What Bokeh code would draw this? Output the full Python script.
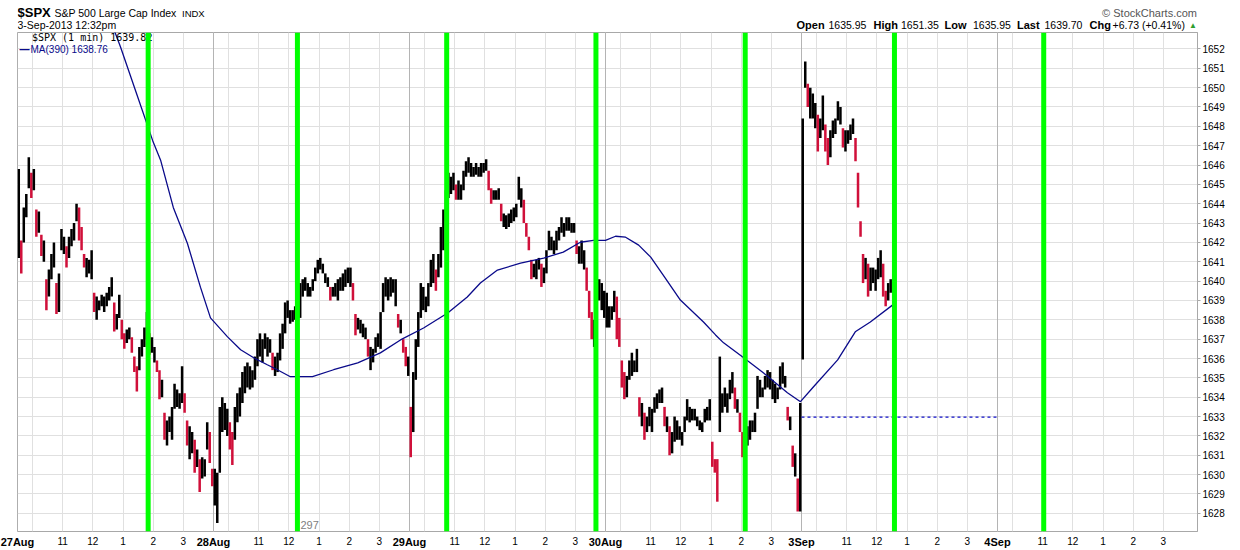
import numpy as np
from bokeh.plotting import figure
from bokeh.layouts import column
from bokeh.models import (Range1d, FixedTicker, Label, Span, ColumnDataSource, LinearAxis)
from bokeh.embed import file_html
from bokeh.resources import INLINE

# ---------------- data ----------------
day_labels = ["27Aug", "28Aug", "29Aug", "30Aug", "3Sep", "4Sep"]
session_len = 390          # trading minutes per day
bar_step = 5               # minutes per drawn bar
hour_offsets = [30, 90, 150, 210, 270, 330]
hour_labels = ["", "11", "12", "1", "2", "3"]

aug27_low = [1641.2, 1640.4, 1642.0, 1643.3, 1644.8, 1644.3, 1644.7, 1642.3, 1642.5, 1641.3,
             1641.0, 1638.5, 1639.2, 1640.1, 1640.7, 1638.3, 1638.4, 1641.6, 1641.4, 1640.7,
             1641.2, 1641.8, 1642.1, 1643.1, 1642.1, 1641.6, 1640.7, 1640.2, 1640.4, 1640.1,
             1638.4, 1638.0, 1638.5, 1638.7, 1638.4, 1638.7, 1639.0, 1639.2, 1637.4, 1637.5,
             1638.1, 1637.0, 1636.5, 1636.8, 1637.0, 1636.3, 1635.3, 1634.3, 1635.4, 1636.1,
             1636.6, 1637.0, 1636.2, 1636.3, 1635.8, 1635.3, 1633.9, 1634.0, 1631.8, 1631.5,
             1632.2, 1631.8, 1633.4, 1633.5, 1633.4, 1633.7, 1633.2, 1631.5, 1630.8, 1631.1,
             1630.1, 1630.4, 1629.1, 1629.8, 1629.9, 1631.3, 1630.6, 1629.4]
aug27_high = [1645.8, 1642.1, 1643.8, 1644.5, 1646.4, 1645.6, 1645.8, 1643.7, 1643.6, 1642.4,
              1642.1, 1640.1, 1640.6, 1641.4, 1642.0, 1639.9, 1640.4, 1642.7, 1642.3, 1641.8,
              1642.3, 1642.7, 1643.0, 1644.0, 1643.8, 1642.8, 1641.4, 1641.2, 1641.1, 1641.6,
              1639.4, 1639.2, 1639.0, 1639.3, 1639.2, 1639.4, 1639.7, 1640.2, 1638.9, 1638.3,
              1639.3, 1638.0, 1637.3, 1637.5, 1637.6, 1637.1, 1636.1, 1635.6, 1636.6, 1637.0,
              1637.6, 1638.4, 1637.3, 1637.1, 1636.6, 1635.9, 1635.4, 1634.9, 1633.2, 1632.8,
              1633.0, 1633.5, 1634.7, 1634.4, 1634.2, 1635.6, 1634.2, 1632.8, 1632.5, 1632.2,
              1631.8, 1631.3, 1630.8, 1630.9, 1630.8, 1632.7, 1632.2, 1630.3]

aug28_low = [1628.4, 1627.5, 1630.1, 1632.2, 1632.3, 1632.0, 1631.3, 1630.5, 1631.8, 1632.7,
             1633.0, 1633.7, 1634.2, 1634.5, 1634.4, 1634.5, 1634.9, 1635.6, 1636.1, 1635.8,
             1636.5, 1636.1, 1636.3, 1635.4, 1635.1, 1635.3, 1635.9, 1636.5, 1637.3, 1638.1,
             1637.8, 1637.9, 1638.0, 1638.4, 1638.1, 1639.2, 1639.5, 1639.2, 1639.2, 1639.5,
             1640.0, 1640.4, 1640.6, 1640.4, 1639.9, 1639.7, 1639.0, 1639.2, 1639.2, 1639.0,
             1639.5, 1639.5, 1639.7, 1639.9, 1639.7, 1639.0, 1637.2, 1637.5, 1637.3, 1637.1,
             1637.0, 1636.1, 1635.4, 1635.8, 1636.3, 1636.6, 1636.5, 1638.4, 1639.2, 1639.0,
             1639.2, 1639.4, 1638.7, 1637.6, 1637.3, 1636.3, 1635.6, 1635.1]
aug28_high = [1630.3, 1630.1, 1633.5, 1634.0, 1633.7, 1633.4, 1632.7, 1632.2, 1633.5, 1634.2,
              1634.5, 1635.3, 1635.6, 1635.8, 1635.6, 1635.4, 1636.1, 1637.0, 1637.3, 1637.0,
              1637.3, 1637.1, 1637.0, 1636.3, 1636.1, 1636.3, 1637.3, 1637.8, 1638.9, 1639.0,
              1638.5, 1638.5, 1638.7, 1640.1, 1639.9, 1640.1, 1640.2, 1639.9, 1639.7, 1640.1,
              1640.7, 1641.1, 1641.2, 1640.9, 1640.4, 1640.2, 1639.7, 1639.7, 1639.9, 1640.1,
              1640.2, 1640.4, 1640.6, 1640.7, 1640.7, 1639.9, 1638.3, 1638.1, 1638.0, 1637.8,
              1637.6, 1637.0, 1636.6, 1636.5, 1637.1, 1637.3, 1638.4, 1639.9, 1640.2, 1640.1,
              1640.2, 1640.1, 1640.1, 1638.3, 1638.0, 1637.0, 1636.6, 1636.1]

aug29_low = [1630.9, 1632.2, 1634.9, 1636.6, 1638.1, 1638.5, 1638.4, 1638.7, 1639.7, 1639.9,
             1639.5, 1640.2, 1640.7, 1641.6, 1643.1, 1644.3, 1644.5, 1644.7, 1644.2, 1644.2,
             1644.2, 1644.7, 1645.4, 1645.6, 1645.4, 1645.4, 1645.5, 1645.4, 1645.4, 1645.6,
             1645.7, 1644.7, 1644.0, 1644.2, 1644.2, 1644.2, 1643.1, 1642.8, 1642.7, 1642.8,
             1643.0, 1643.1, 1643.3, 1644.2, 1643.8, 1643.0, 1642.3, 1641.6, 1640.1, 1640.2,
             1640.1, 1640.6, 1639.7, 1639.9, 1640.4, 1641.6, 1641.6, 1641.4, 1641.6, 1642.1,
             1642.5, 1642.3, 1642.6, 1642.6, 1642.5, 1642.5, 1641.4, 1640.9, 1640.9, 1640.6,
             1639.5, 1638.1, 1637.0, 1636.6, 1637.0, 1639.0, 1638.5, 1638.1]
aug29_high = [1633.5, 1635.3, 1637.0, 1638.4, 1639.9, 1639.7, 1639.2, 1639.9, 1641.1, 1641.4,
              1640.6, 1641.4, 1642.8, 1643.7, 1644.7, 1645.6, 1645.4, 1645.6, 1645.0, 1645.2,
              1645.0, 1645.7, 1646.2, 1646.4, 1646.1, 1645.9, 1646.1, 1645.9, 1646.1, 1646.1,
              1646.3, 1645.7, 1644.8, 1644.7, 1644.7, 1644.8, 1644.0, 1643.5, 1643.4, 1643.5,
              1643.7, 1643.8, 1644.0, 1645.4, 1644.8, 1644.2, 1643.0, 1642.3, 1641.1, 1640.9,
              1641.1, 1641.2, 1640.9, 1640.7, 1641.6, 1642.6, 1642.3, 1642.1, 1642.6, 1642.8,
              1643.3, 1643.0, 1643.3, 1643.3, 1643.0, 1643.0, 1642.1, 1641.8, 1642.1, 1641.6,
              1640.7, 1639.5, 1638.4, 1638.0, 1638.5, 1640.1, 1639.9, 1639.5]

aug30_low = [1637.6, 1637.6, 1638.0, 1638.4, 1637.0, 1636.6, 1634.5, 1633.9, 1634.0, 1634.9,
             1635.1, 1635.3, 1635.3, 1633.0, 1632.5, 1631.8, 1632.2, 1632.5, 1632.2, 1633.2,
             1633.4, 1633.7, 1633.7, 1632.5, 1632.2, 1631.0, 1631.1, 1631.7, 1631.8, 1631.8,
             1631.5, 1632.2, 1632.8, 1632.7, 1632.8, 1632.8, 1632.5, 1632.3, 1632.2, 1632.7,
             1632.8, 1632.8, 1630.4, 1630.1, 1628.6, 1632.2, 1633.2, 1633.5, 1633.2, 1633.9,
             1634.2, 1633.4, 1633.2, 1632.2, 1630.9, 1631.3, 1631.5, 1631.8, 1632.2, 1632.2,
             1633.4, 1634.0, 1634.0, 1634.4, 1634.5, 1634.4, 1633.9, 1633.7, 1633.9, 1634.4,
             1634.7, 1634.5, 1632.8, 1632.3, 1630.4, 1629.9, 1628.1, 1628.1]
aug30_high = [1639.4, 1638.7, 1638.7, 1639.5, 1639.2, 1638.1, 1635.9, 1635.3, 1635.1, 1635.9,
              1636.3, 1635.9, 1636.5, 1634.0, 1633.7, 1633.2, 1633.0, 1633.5, 1633.4, 1634.0,
              1634.2, 1634.4, 1634.5, 1633.5, 1633.0, 1632.5, 1632.2, 1633.0, 1632.8, 1632.5,
              1632.2, 1633.0, 1633.9, 1633.5, 1633.4, 1633.4, 1633.0, 1632.8, 1632.7, 1633.4,
              1633.5, 1633.9, 1631.7, 1630.8, 1630.8, 1636.1, 1634.2, 1634.5, 1634.2, 1634.9,
              1635.3, 1634.5, 1633.9, 1633.2, 1632.2, 1632.5, 1632.5, 1632.8, 1632.8, 1633.2,
              1635.1, 1634.9, 1634.5, 1635.1, 1635.4, 1635.3, 1634.9, 1634.7, 1634.5, 1635.6,
              1635.8, 1635.1, 1633.5, 1633.0, 1631.5, 1631.1, 1629.8, 1633.7]

sep03_low = [1635.95, 1650.0, 1649.0, 1648.4, 1648.4, 1647.9, 1646.7, 1647.4, 1647.8, 1646.7,
             1646.0, 1646.4, 1647.4, 1647.6, 1648.3, 1648.1, 1646.9, 1646.7, 1647.1, 1647.3,
             1647.6, 1646.2, 1643.8, 1642.3, 1639.9, 1640.1, 1639.2, 1639.5, 1639.9, 1639.5,
             1640.1, 1640.2, 1639.2, 1638.7, 1639.0, 1639.4, 1639.5]
sep03_high = [1648.4, 1651.35, 1650.2, 1650.0, 1649.7, 1649.2, 1648.6, 1648.4, 1649.6, 1648.1,
              1647.4, 1647.8, 1648.3, 1648.4, 1649.3, 1649.0, 1647.9, 1647.8, 1647.8, 1648.1,
              1648.4, 1647.4, 1645.6, 1643.1, 1641.4, 1641.2, 1640.9, 1640.7, 1640.7, 1640.6,
              1641.2, 1641.6, 1640.9, 1639.5, 1639.9, 1640.1, 1640.1]

# 390-minute moving average (trading-minute index, value)
ma_minute = [193, 205, 237, 269, 285, 310, 338, 364, 384, 418, 444, 470, 497, 517, 543, 563,
             587, 629, 677, 722, 762, 808, 856, 895, 921, 955, 1001, 1047, 1086, 1120, 1146,
             1170, 1190, 1210, 1236, 1260, 1289, 1319, 1365, 1389, 1405, 1445, 1484, 1532,
             1558, 1584, 1632, 1667, 1697, 1741]
ma_value = [1652.93, 1652.10, 1649.68, 1647.26, 1646.23, 1643.81, 1641.96, 1639.69, 1638.10,
            1637.12, 1636.45, 1636.04, 1635.68, 1635.42, 1635.06, 1635.06, 1635.06, 1635.42,
            1635.78, 1636.29, 1636.96, 1637.58, 1638.35, 1639.18, 1639.90, 1640.57, 1640.93,
            1641.19, 1641.50, 1642.01, 1642.11, 1642.11, 1642.32, 1642.27, 1641.86, 1641.24,
            1640.16, 1639.02, 1637.89, 1637.22, 1636.81, 1636.04, 1635.26, 1634.23, 1633.77,
            1634.54, 1635.93, 1637.38, 1637.89, 1638.76]

cycle_lines = [260, 557, 854, 1151, 1448, 1745, 2042]
cycle_text = "297"
prev_close = 1632.97
y_ticks = list(range(1628, 1653))

quote_open, quote_high, quote_low, quote_last = 1635.95, 1651.35, 1635.95, 1639.70
quote_chg, quote_pct = 6.73, 0.41
legend_last = 1639.82

# ---------------- build bars ----------------
daily = [(aug27_low, aug27_high), (aug28_low, aug28_high), (aug29_low, aug29_high),
         (aug30_low, aug30_high), (sep03_low, sep03_high)]
bx, blo, bhi = [], [], []
for d, (lo, hi) in enumerate(daily):
    for i, (l, h) in enumerate(zip(lo, hi)):
        bx.append(d * session_len + i * bar_step + bar_step / 2)
        blo.append(l)
        bhi.append(h)
mid = (np.array(blo) + np.array(bhi)) / 2
bcol = ["#000000"] + ["#d0103a" if mid[k] < mid[k - 1] - 0.55 else "#000000"
                      for k in range(1, len(mid))]
bars = ColumnDataSource(dict(x=bx, low=blo, high=bhi, color=bcol))

n_days = len(day_labels)
day_starts = [d * session_len for d in range(n_days)]
x_ticks, overrides = [], {}
for ds in day_starts:
    x_ticks.append(ds)
    overrides[ds] = ""
    for off, lab in zip(hour_offsets, hour_labels):
        x_ticks.append(ds + off)
        overrides[ds + off] = lab

FONT = "Liberation Sans"
W = 1240
HEAD_H = 32
FL, FR, FB = 17, 1197, 531   # chart frame left / right / bottom on the page

# ---------------- header strip (page coordinates) ----------------
h = figure(width=W, height=HEAD_H, x_range=Range1d(FL, FR), y_range=Range1d(HEAD_H, 0),
           title=None, output_backend="svg", toolbar_location=None,
           x_axis_type=None, y_axis_type=None,
           min_border_left=FL, min_border_right=W - FR, min_border_top=0, min_border_bottom=0,
           outline_line_color=None, background_fill_color="white", border_fill_color="white")
h.xgrid.visible = False
h.ygrid.visible = False

def hlab(x, y, t, size, bold=False, color="#000000", align="left"):
    h.add_layout(Label(x=x, y=y, text=t, text_font=FONT, text_font_size=size,
                       text_font_style="bold" if bold else "normal",
                       text_color=color, text_align=align, text_baseline="middle"))

hlab(17, 11.8, "$SPX", "13px", bold=True)
hlab(54, 12, "S&P 500 Large Cap Index", "10.5px")
hlab(181.5, 12.6, "INDX", "9.5px")
hlab(17, 24.4, "3-Sep-2013 12:32pm", "10.5px")
hlab(1196.5, 12, "\u00a9 StockCharts.com", "11px", color="#555555", align="right")
hlab(796, 24.5, "Open", "11px", bold=True)
hlab(828, 24.5, f"{quote_open:.2f}", "10.5px")
hlab(873, 24.5, "High", "11px", bold=True)
hlab(900.5, 24.5, f"{quote_high:.2f}", "10.5px")
hlab(944, 24.5, "Low", "11px", bold=True)
hlab(972.5, 24.5, f"{quote_low:.2f}", "10.5px")
hlab(1016.5, 24.5, "Last", "11px", bold=True)
hlab(1044, 24.5, f"{quote_last:.2f}", "10.5px")
hlab(1089, 24.5, "Chg", "11px", bold=True)
hlab(1112, 24.5, f"+{quote_chg:.2f} (+{quote_pct:.2f}%)", "10.5px")
hlab(1188.5, 24.5, "\u25b2", "8px", color="#2e9e2e")

# ---------------- main chart ----------------
def sx(xp):
    return xp - FL
def sy(yp):
    return FB - yp

p = figure(width=W, height=550 - HEAD_H, x_range=Range1d(0, 2348),
           y_range=Range1d(1627.06, 1652.85),
           output_backend="svg", toolbar_location=None, y_axis_location="right",
           min_border_left=FL, min_border_right=W - FR, min_border_top=0, min_border_bottom=19,
           background_fill_color="white", border_fill_color="white",
           outline_line_color="#a8a8a8")

p.xaxis.ticker = FixedTicker(ticks=x_ticks)
p.xaxis.major_label_overrides = overrides
p.xaxis.major_tick_line_color = None
p.xaxis.major_tick_out = 0
p.xaxis.major_tick_in = 0
p.xaxis.minor_tick_line_color = None
p.xaxis.axis_line_color = None
p.xaxis.major_label_standoff = 5
p.xaxis.major_label_text_font = FONT
p.xaxis.major_label_text_font_size = "10px"
p.xaxis.major_label_text_color = "#000000"

day_axis = LinearAxis(ticker=FixedTicker(ticks=day_starts),
                      major_label_overrides={ds: t for ds, t in zip(day_starts, day_labels)},
                      major_label_text_font=FONT, major_label_text_font_size="11px",
                      major_label_text_font_style="bold", major_label_text_color="#000000",
                      major_label_standoff=-12, axis_line_color=None,
                      major_tick_line_color=None, minor_tick_line_color=None,
                      major_tick_out=0, major_tick_in=0)
p.add_layout(day_axis, "below")

p.yaxis.ticker = FixedTicker(ticks=y_ticks)
p.yaxis.minor_tick_line_color = None
p.yaxis.major_tick_in = 0
p.yaxis.major_tick_out = 3
p.yaxis.major_tick_line_color = "#a8a8a8"
p.yaxis.axis_line_color = "#a8a8a8"
p.yaxis.axis_line_dash = "1 1"
p.yaxis.major_label_standoff = 2
p.yaxis.major_label_text_font = FONT
p.yaxis.major_label_text_font_size = "10px"
p.yaxis.major_label_text_color = "#000000"

p.xgrid.grid_line_color = "#e0e0e0"
p.ygrid.grid_line_color = "#e0e0e0"

# darker day separators
p.vspan(x=day_starts, line_color="#b4b4b4", line_width=1)

# price bars
p.vbar(x="x", bottom="low", top="high", width=bar_step, source=bars,
       fill_color="color", line_color=None)

# previous close
p.segment(x0=[day_starts[4]], y0=[prev_close], x1=[day_starts[5]], y1=[prev_close],
          line_color="#1010c8", line_width=1.3, line_dash="3 3")

# moving average
p.line(ma_minute, ma_value, line_color="#0a0a8a", line_width=1.3)

def plab(x, y, t, size, bold=False, color="#000000", font=FONT):
    p.add_layout(Label(x=sx(x), y=sy(y), x_units="screen", y_units="screen", text=t,
                       text_font=font, text_font_size=size,
                       text_font_style="bold" if bold else "normal",
                       text_color=color, text_baseline="middle"))

# in-plot legend
plab(31.5, 37, f"$SPX (1 min) {legend_last:.2f}", "10px", font="DejaVu Sans Mono")
plab(19, 48.5, "\u2014", "10px", bold=True, color="#0a0a8a")
plab(30, 48.5, f"MA(390) {ma_value[-1]:.2f}", "10px", color="#0a0a8a")

# cycle lines
for c in cycle_lines:
    p.add_layout(Span(location=c, dimension="height", line_color="#00ff00", line_width=5))
p.add_layout(Label(x=cycle_lines[1], y=3, x_units="data", y_units="screen", x_offset=3,
                   text=cycle_text, text_font=FONT, text_font_size="11px",
                   text_color="#808080", text_baseline="bottom"))

layout = column(h, p, spacing=0)
open("out.html", "w").write(file_html(layout, INLINE))
